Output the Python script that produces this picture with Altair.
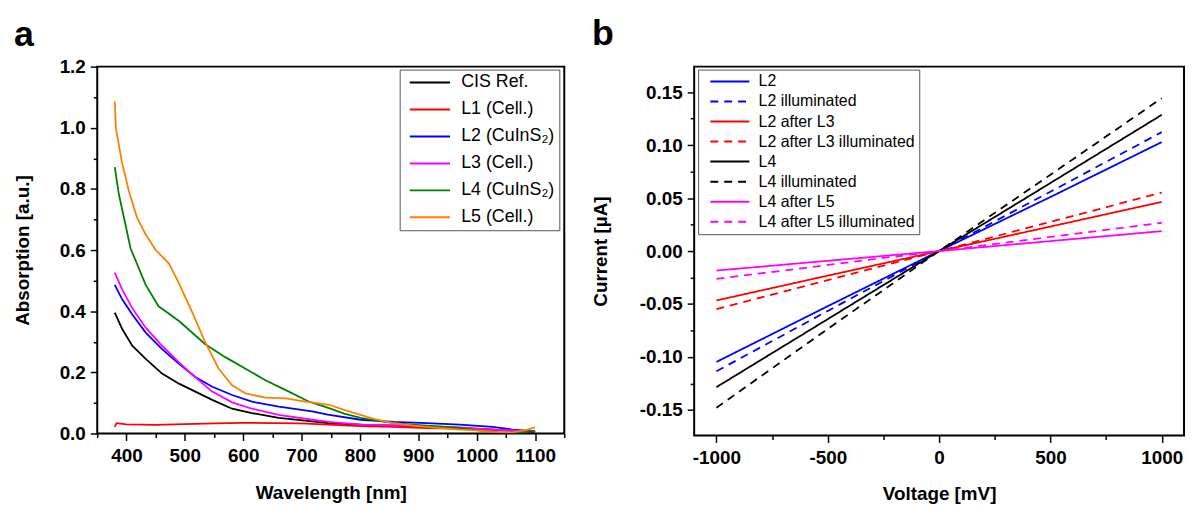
import altair as alt
import pandas as pd

# ---------------- panel a : absorption spectra ----------------
series_a = ["CIS Ref.", "L1 (Cell.)", "L2 (CuInS₂)", "L3 (Cell.)", "L4 (CuInS₂)", "L5 (Cell.)"]
colors_a = ["#000000", "#ff0000", "#0000ff", "#ff00ff", "#008000", "#ff8000"]

wl_cis = [380, 393, 410, 433, 461, 490, 518, 547, 581, 615, 661, 718, 745, 801, 858, 914, 971, 1027, 1084, 1100]
ab_cis = [0.395, 0.341, 0.287, 0.244, 0.196, 0.163, 0.137, 0.110, 0.081, 0.067, 0.051, 0.040, 0.034, 0.029, 0.026, 0.022, 0.018, 0.013, 0.005, 0.004]

wl_l1 = [380, 383, 400, 450, 500, 550, 600, 650, 700, 745, 801, 858, 914, 1000, 1050, 1100]
ab_l1 = [0.022, 0.034, 0.030, 0.028, 0.031, 0.033, 0.035, 0.034, 0.033, 0.029, 0.024, 0.022, 0.018, 0.015, 0.011, 0.008]

wl_l2 = [380, 393, 410, 433, 461, 490, 518, 547, 581, 615, 661, 718, 745, 801, 858, 914, 971, 1027, 1061, 1095, 1100]
ab_l2 = [0.486, 0.438, 0.389, 0.330, 0.276, 0.228, 0.185, 0.153, 0.126, 0.104, 0.088, 0.072, 0.062, 0.045, 0.038, 0.034, 0.029, 0.022, 0.013, 0.008, 0.006]

wl_l3 = [380, 393, 410, 433, 461, 490, 513, 547, 581, 615, 661, 718, 747, 801, 858, 914, 971, 1027, 1084, 1100]
ab_l3 = [0.526, 0.470, 0.410, 0.346, 0.287, 0.233, 0.192, 0.137, 0.102, 0.081, 0.061, 0.045, 0.038, 0.029, 0.027, 0.024, 0.020, 0.013, 0.008, 0.006]

wl_l4 = [380, 387, 398, 407, 433, 455, 467, 490, 535, 570, 604, 638, 673, 713, 747, 773, 801, 829, 858, 914, 971, 999, 1038, 1072, 1100]
ab_l4 = [0.871, 0.783, 0.686, 0.606, 0.486, 0.416, 0.400, 0.368, 0.292, 0.249, 0.212, 0.174, 0.142, 0.104, 0.083, 0.065, 0.051, 0.042, 0.034, 0.026, 0.018, 0.011, 0.004, 0.002, 0.008]

wl_l5 = [380, 382, 392, 404, 418, 432, 450, 473, 490, 513, 535, 558, 581, 604, 638, 673, 707, 747, 773, 801, 829, 858, 886, 914, 971, 999, 1027, 1061, 1084, 1100]
ab_l5 = [1.086, 0.998, 0.890, 0.794, 0.707, 0.654, 0.600, 0.556, 0.491, 0.395, 0.298, 0.212, 0.158, 0.131, 0.117, 0.115, 0.104, 0.094, 0.077, 0.061, 0.045, 0.034, 0.027, 0.022, 0.013, 0.010, 0.005, 0.004, 0.011, 0.020]

# ---------------- panel b : I-V curves ----------------
series_b = ["L2", "L2 illuminated", "L2 after L3", "L2 after L3 illuminated",
            "L4", "L4 illuminated", "L4 after L5", "L4 after L5 illuminated"]
colors_b = ["#0000ff", "#0000ff", "#ff0000", "#ff0000", "#000000", "#000000", "#ff00ff", "#ff00ff"]
dashes_b = [[1, 0], [8, 6], [1, 0], [8, 6], [1, 0], [8, 6], [1, 0], [8, 6]]

voltage = [-1000, -500, 0, 500, 1000]
cur_l2 = [-0.1046, -0.0520, 0.0, 0.0510, 0.1028]
cur_l2_ill = [-0.1134, -0.0565, 0.0, 0.0560, 0.1122]
cur_l2_l3 = [-0.0466, -0.0232, 0.0, 0.0231, 0.0464]
cur_l2_l3_ill = [-0.0548, -0.0274, 0.0, 0.0275, 0.0552]
cur_l4 = [-0.1284, -0.0642, 0.0, 0.0642, 0.1285]
cur_l4_ill = [-0.1478, -0.0735, 0.0, 0.0720, 0.1442]
cur_l4_l5 = [-0.0184, -0.0092, 0.0, 0.0094, 0.0188]
cur_l4_l5_ill = [-0.0263, -0.0131, 0.0, 0.0133, 0.0267]

# ---------------- tables ----------------
rows_a = []
for name, wl, ab in zip(series_a, [wl_cis, wl_l1, wl_l2, wl_l3, wl_l4, wl_l5],
                        [ab_cis, ab_l1, ab_l2, ab_l3, ab_l4, ab_l5]):
    for i, (w, a) in enumerate(zip(wl, ab)):
        rows_a.append({"series": name, "wl": w, "ab": a, "ord": i})
df_a = pd.DataFrame(rows_a)

rows_b = []
for name, cur in zip(series_b, [cur_l2, cur_l2_ill, cur_l2_l3, cur_l2_l3_ill,
                                cur_l4, cur_l4_ill, cur_l4_l5, cur_l4_l5_ill]):
    for i, (v, c) in enumerate(zip(voltage, cur)):
        rows_b.append({"series": name, "v": v, "i": c, "ord": i})
df_b = pd.DataFrame(rows_b)

FONT = "Liberation Sans"

xa_ticks = list(range(350, 1151, 50))
ya_ticks = [round(k * 0.1, 1) for k in range(13)]
xb_ticks = list(range(-1000, 1001, 250))
yb_ticks = [round(-0.15 + k * 0.025, 3) for k in range(13)]

chart_a = alt.Chart(df_a).mark_line(strokeWidth=1.8, clip=True).encode(
    x=alt.X("wl:Q", scale=alt.Scale(domain=[350, 1150], nice=False, zero=False),
            axis=alt.Axis(title="Wavelength [nm]", values=xa_ticks,
                          labelExpr="datum.value % 100 === 0 ? datum.label : ''",
                          format="d", labelOverlap=False, labelFlush=False,
                          tickSize={"condition": {"test": "datum.value % 100 === 0", "value": 7}, "value": 4},
                          labelPadding=6, titlePadding=20, minExtent=31, maxExtent=31)),
    y=alt.Y("ab:Q", scale=alt.Scale(domain=[0, 1.2], nice=False, zero=False),
            axis=alt.Axis(title="Absorption [a.u.]", values=ya_ticks,
                          labelExpr="round(datum.value*10) % 2 === 0 ? format(datum.value, '.1f') : ''",
                          labelOverlap=False, labelFlush=False,
                          tickSize={"condition": {"test": "round(datum.value*10) % 2 === 0", "value": 7}, "value": 4},
                          labelPadding=5, titlePadding=17, minExtent=48, maxExtent=48)),
    color=alt.Color("series:N", scale=alt.Scale(domain=series_a, range=colors_a),
                    legend=alt.Legend(title=None, orient="none", legendX=305, legendY=3,
                                      strokeColor="#555555", fillColor="white", padding=4,
                                      symbolType="stroke", symbolSize=1650, symbolStrokeWidth=2,
                                      symbolOffset=5, labelOffset=10, labelFont=FONT,
                                      labelFontSize=18, labelColor="black", clipHeight=18,
                                      rowPadding=9.2, labelLimit=300)),
    order="ord:Q",
).properties(
    width=471, height=370,
    title=alt.TitleParams("a", anchor="start", frame="bounds", fontSize=36, fontWeight="bold",
                          font=FONT, color="black", offset=-24, baseline="alphabetic"),
)

chart_b = alt.Chart(df_b).mark_line(strokeWidth=1.8, clip=True).encode(
    x=alt.X("v:Q", scale=alt.Scale(domain=[-1100, 1100], nice=False, zero=False),
            axis=alt.Axis(title="Voltage [mV]", values=xb_ticks,
                          labelExpr="datum.value % 500 === 0 ? (datum.value < 0 ? '-' : '') + format(abs(datum.value), 'd') : ''",
                          labelOverlap=False, labelFlush=False,
                          tickSize={"condition": {"test": "datum.value % 500 === 0", "value": 7}, "value": 4},
                          labelPadding=6, titlePadding=19, minExtent=31, maxExtent=31)),
    y=alt.Y("i:Q", scale=alt.Scale(domain=[-0.174, 0.174], nice=False, zero=False),
            axis=alt.Axis(title="Current [µA]", values=yb_ticks,
                          labelExpr="abs(round(datum.value*40)) % 2 === 0 ? (datum.value < -0.000001 ? '-' : '') + format(abs(datum.value), '.2f') : ''",
                          labelOverlap=False, labelFlush=False,
                          tickSize={"condition": {"test": "abs(round(datum.value*40)) % 2 === 0", "value": 7}, "value": 4},
                          labelPadding=5, titlePadding=24, minExtent=60, maxExtent=60)),
    color=alt.Color("series:N", scale=alt.Scale(domain=series_b, range=colors_b),
                    legend=alt.Legend(title=None, orient="none", legendX=4, legendY=3,
                                      strokeColor="#555555", fillColor="white", padding=4,
                                      symbolType="stroke", symbolSize=1550, symbolStrokeWidth=2,
                                      symbolOffset=7, labelOffset=8, labelFont=FONT,
                                      labelFontSize=16, labelColor="black", clipHeight=16,
                                      rowPadding=4.2, labelLimit=300)),
    strokeDash=alt.StrokeDash("series:N", scale=alt.Scale(domain=series_b, range=dashes_b),
                              legend=alt.Legend(title=None, orient="none", legendX=4, legendY=3)),
    order="ord:Q",
).properties(
    width=494, height=372,
    title=alt.TitleParams("b", anchor="start", frame="bounds", fontSize=36, fontWeight="bold",
                          font=FONT, color="black", offset=-14, baseline="alphabetic"),
)

chart = alt.hconcat(chart_a, chart_b, spacing=25).resolve_scale(
    color="independent", strokeDash="independent"
).resolve_legend(
    color="independent", strokeDash="independent"
).properties(
    padding={"left": 5, "top": 5, "right": 0, "bottom": 0}
).configure(
    background="white"
).configure_view(
    stroke="black", strokeWidth=2
).configure_axis(
    domain=False, grid=False, tickColor="black", tickWidth=1.5,
    labelFont=FONT, labelFontSize=19, labelFontWeight="bold", labelColor="black",
    titleFont=FONT, titleFontSize=19, titleFontWeight="bold", titleColor="black",
)

chart.save("out.html", embed_options={"renderer": "svg", "actions": False})
